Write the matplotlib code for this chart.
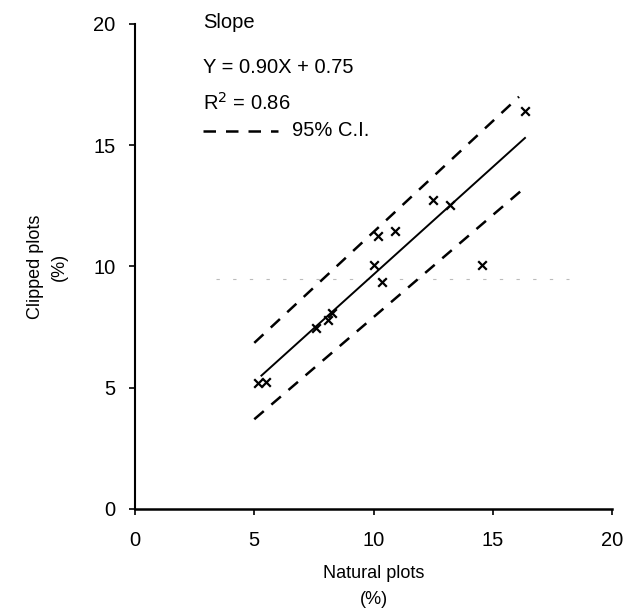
import matplotlib
matplotlib.use("Agg")
import matplotlib.pyplot as plt

plt.rcParams['font.family'] = ['Liberation Sans', 'DejaVu Sans']

# observed points (natural vs clipped, %)
natural = [5.15, 5.5, 7.6, 8.1, 8.25, 10.0, 10.2, 10.35, 10.9, 12.5, 13.2, 14.55, 16.35]
clipped = [5.2, 5.25, 7.45, 7.8, 8.1, 10.05, 11.25, 9.35, 11.45, 12.75, 12.55, 10.05, 16.4]

# regression line and 95% confidence limits (end points)
fit_x = [5.3, 16.35]
fit_y = [5.5, 15.3]
upper_x = [5.0, 16.1]
upper_y = [6.85, 17.0]
lower_x = [5.0, 16.4]
lower_y = [3.7, 13.3]

fig = plt.figure(figsize=(6.39, 6.15), dpi=100)
ax = fig.add_axes([0.2113, 0.1724, 0.7465, 0.7886])

# faint scan line across the plot
ax.plot([3.4, 18.2], [9.5, 9.5], color='#bbbbbb', lw=0.8, dashes=(3, 12))

ax.plot(fit_x, fit_y, color='black', lw=1.4)
ax.plot(upper_x, upper_y, color='black', lw=1.8, dashes=(5, 4))
ax.plot(lower_x, lower_y, color='black', lw=1.8, dashes=(5, 4))
ax.scatter(natural, clipped, marker='x', color='black', s=38, linewidths=1.6, zorder=3)

ax.set_xlim(0, 20)
ax.set_ylim(0, 20)
ax.set_xticks([0, 5, 10, 15, 20])
ax.set_yticks([0, 5, 10, 15, 20])
ax.spines['top'].set_visible(False)
ax.spines['right'].set_visible(False)
ax.spines['left'].set_linewidth(1.5)
ax.spines['bottom'].set_linewidth(1.8)
ax.tick_params(direction='out', length=4, width=1.2, labelsize=14.5, pad=10)
ax.tick_params(axis='x', pad=12)

ax.set_xlabel('Natural plots\n(%)', fontsize=13, labelpad=11, linespacing=1.65)
ax.set_ylabel('Clipped plots\n(%)', fontsize=13, labelpad=18, linespacing=1.6)

# annotation block
ax.text(2.85, 20.05, 'Slope', fontsize=14.5, va='center')
ax.text(2.85, 18.2, 'Y = 0.90X + 0.75', fontsize=14.5, va='center')
ax.text(2.85, 16.75, 'R$^2$ = 0.86', fontsize=14.5, va='center')
ax.plot([2.85, 6.0], [15.6, 15.6], color='black', lw=1.8, dashes=(5, 4), clip_on=False)
ax.text(6.6, 15.6, '95% C.I.', fontsize=14.5, va='center')

fig.savefig('out.png', dpi=100)
